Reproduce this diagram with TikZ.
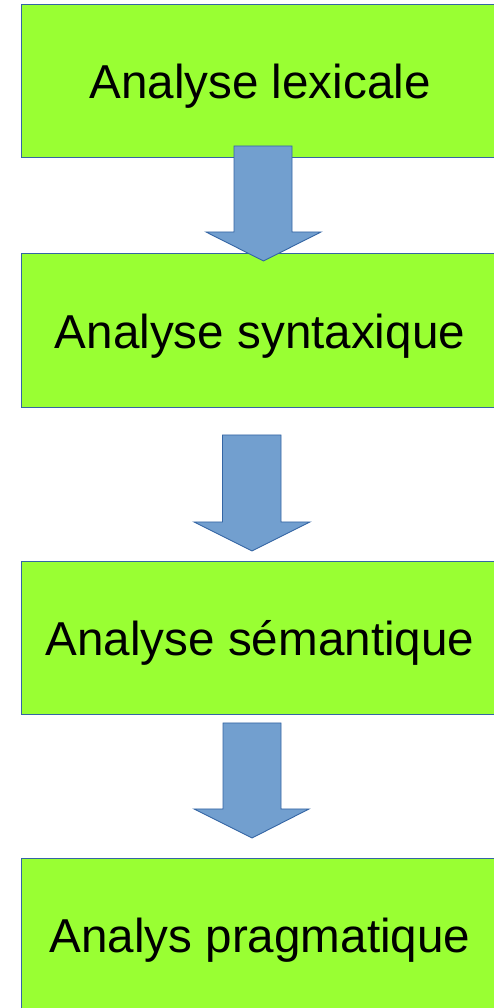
\documentclass[tikz,border=0pt]{standalone}
\usepackage{fontspec}
\setmainfont{Liberation Sans}
\definecolor{boxgreen}{HTML}{99FF33}
\definecolor{boxline}{HTML}{3465A4}
\definecolor{arrowfill}{HTML}{729FCF}
\definecolor{arrowline}{HTML}{3465A4}
\begin{document}
\begin{tikzpicture}[x=1pt,y=1pt,
  stage/.style={rectangle, fill=boxgreen, draw=boxline, line width=1pt,
    minimum width=478pt, inner sep=0pt, text height=35pt, text depth=0pt,
    font=\fontsize{47.6}{57}\selectfont},
  flowarrow/.style={fill=arrowfill, draw=arrowline, line width=0.9pt, line join=miter}]
\useasboundingbox (0,0) rectangle (493,1008);
\fill[white] (0,0) rectangle (493,1008);

% processing stages
\node[stage, minimum height=153pt] (lex) at (260,926.5) {Analyse lexicale};
\node[stage, minimum height=154pt] (syn) at (260,677) {Analyse syntaxique};
\node[stage, minimum height=153pt] (sem) at (260,369.5) {Analyse sémantique};
\node[stage, minimum height=152pt] (prag) at (260,73) {Analys pragmatique};

% block arrows between stages
\draw[flowarrow] (234,862) -- (292,862) -- (292,776) -- (321,776)
  -- (263.5,747) -- (206,776) -- (234,776) -- cycle;
\draw[flowarrow] (222.5,573) -- (281,573) -- (281,486) -- (310,486)
  -- (252,457) -- (194,486) -- (222.5,486) -- cycle;
\draw[flowarrow] (223,285) -- (281,285) -- (281,199) -- (309,199)
  -- (252,170) -- (194,199) -- (223,199) -- cycle;
\end{tikzpicture}
\end{document}
